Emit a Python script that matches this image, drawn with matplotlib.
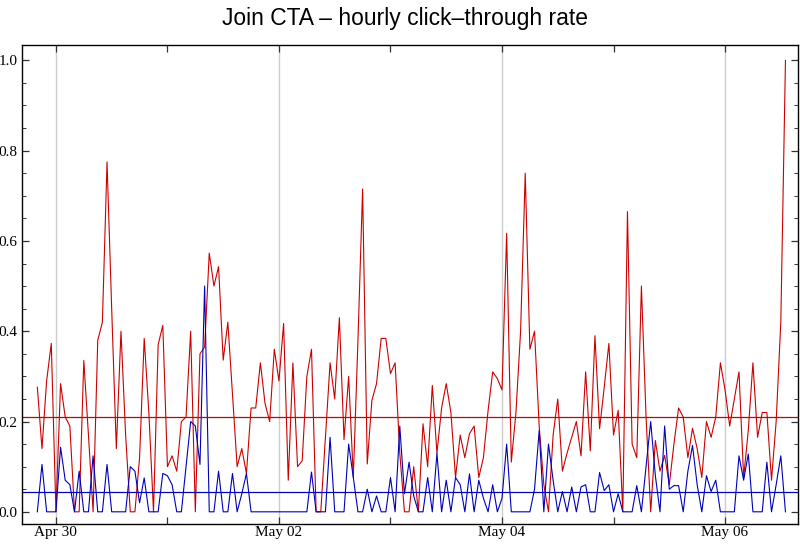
import matplotlib
matplotlib.use("Agg")
import matplotlib.pyplot as plt
import pandas as pd
import numpy as np

# ---- data ----
start_time = "2012-04-29 20:00"
red_rate = [
    0.276, 0.14, 0.29, 0.373, 0.0, 0.284, 0.21, 0.19, 0.0, 0.0,
    0.335, 0.17, 0.0, 0.38, 0.42, 0.775, 0.45, 0.14, 0.4, 0.17,
    0.0, 0.0, 0.12, 0.384, 0.22, 0.0, 0.37, 0.413, 0.1, 0.124,
    0.09, 0.2, 0.21, 0.4, 0.0, 0.35, 0.365, 0.573, 0.5, 0.543,
    0.336, 0.42, 0.26, 0.1, 0.14, 0.085, 0.23, 0.23, 0.33, 0.24,
    0.2, 0.36, 0.29, 0.417, 0.07, 0.33, 0.1, 0.113, 0.3, 0.36,
    0.0, 0.0, 0.165, 0.33, 0.25, 0.43, 0.16, 0.3, 0.076, 0.38,
    0.715, 0.106, 0.247, 0.284, 0.384, 0.384, 0.306, 0.33, 0.13, 0.0,
    0.0, 0.1, 0.0, 0.195, 0.1, 0.28, 0.13, 0.23, 0.284, 0.22,
    0.076, 0.17, 0.12, 0.173, 0.19, 0.076, 0.12, 0.224, 0.31, 0.295,
    0.27, 0.617, 0.11, 0.22, 0.4, 0.75, 0.36, 0.4, 0.19, 0.06,
    0.0, 0.17, 0.25, 0.09, 0.13, 0.165, 0.2, 0.124, 0.31, 0.135,
    0.39, 0.184, 0.276, 0.373, 0.17, 0.225, 0.0, 0.665, 0.15, 0.12,
    0.5, 0.21, 0.0, 0.158, 0.09, 0.125, 0.06, 0.15, 0.23, 0.21,
    0.12, 0.185, 0.14, 0.076, 0.2, 0.165, 0.21, 0.33, 0.27, 0.19,
    0.25, 0.31, 0.076, 0.18, 0.33, 0.165, 0.22, 0.22, 0.07, 0.2,
    0.42, 1.0,
]
blue_rate = [
    0.0, 0.105, 0.0, 0.0, 0.0, 0.143, 0.07, 0.06, 0.0, 0.09,
    0.0, 0.0, 0.124, 0.0, 0.0, 0.105, 0.0, 0.0, 0.0, 0.0,
    0.1, 0.09, 0.02, 0.075, 0.0, 0.0, 0.0, 0.085, 0.08, 0.06,
    0.0, 0.0, 0.1, 0.2, 0.19, 0.105, 0.5, 0.0, 0.0, 0.09,
    0.0, 0.0, 0.085, 0.0, 0.04, 0.085, 0.0, 0.0, 0.0, 0.0,
    0.0, 0.0, 0.0, 0.0, 0.0, 0.0, 0.0, 0.0, 0.0, 0.088,
    0.0, 0.0, 0.0, 0.165, 0.0, 0.0, 0.0, 0.15, 0.076, 0.0,
    0.0, 0.05, 0.0, 0.035, 0.0, 0.0, 0.076, 0.0, 0.19, 0.04,
    0.11, 0.035, 0.0, 0.0, 0.076, 0.0, 0.13, 0.0, 0.07, 0.0,
    0.076, 0.06, 0.0, 0.084, 0.0, 0.07, 0.03, 0.0, 0.06, 0.0,
    0.03, 0.15, 0.0, 0.0, 0.0, 0.0, 0.0, 0.05, 0.18, 0.0,
    0.15, 0.07, 0.0, 0.045, 0.0, 0.055, 0.0, 0.055, 0.06, 0.0,
    0.0, 0.087, 0.047, 0.06, 0.0, 0.04, 0.0, 0.0, 0.0, 0.058,
    0.0, 0.1, 0.2, 0.08, 0.0, 0.19, 0.05, 0.058, 0.058, 0.0,
    0.09, 0.147, 0.06, 0.0, 0.08, 0.045, 0.07, 0.0, 0.0, 0.0,
    0.0, 0.124, 0.07, 0.128, 0.0, 0.0, 0.0, 0.11, 0.0, 0.06,
    0.124, 0.0,
]
red_mean = 0.21
blue_mean = 0.043
major_tick_dates = ["2012-04-30", "2012-05-02", "2012-05-04", "2012-05-06"]
major_tick_labels = ["Apr 30", "May 02", "May 04", "May 06"]
minor_tick_dates = ["2012-05-01", "2012-05-03", "2012-05-05"]
y_ticks = [0.0, 0.2, 0.4, 0.6, 0.8, 1.0]
y_tick_labels = ["0.0", "0.2", "0.4", "0.6", "0.8", "1.0"]
title = "Join CTA \u2013 hourly click\u2013through rate"

times = pd.date_range(start=start_time, periods=len(red_rate), freq="h")

RED = "#cc0000"
BLUE = "#0000bb"

fig = plt.figure(figsize=(8.0, 5.45), dpi=100)
W, H = 800, 545
ax = fig.add_axes([22 / W, 1 - 524 / H, (798 - 22) / W, (524 - 45) / H])

ax.plot(times, red_rate, color=RED, lw=0.8)
ax.plot(times, blue_rate, color=BLUE, lw=0.8)
ax.axhline(red_mean, color=RED, lw=0.9)
ax.axhline(blue_mean, color=BLUE, lw=0.9)

t0 = pd.Timestamp(major_tick_dates[0])
ax.set_xlim(t0 - pd.Timedelta(hours=7.3), t0 + pd.Timedelta(hours=159.7))
ax.set_ylim(-0.027, 1.034)

maj = [pd.Timestamp(d) for d in major_tick_dates]
mnr = [pd.Timestamp(d) for d in minor_tick_dates]
ax.set_xticks(maj)
ax.set_xticklabels(major_tick_labels)
ax.set_xticks(mnr, minor=True)
ax.set_yticks(y_ticks)
ax.set_yticklabels(y_tick_labels)
ax.set_yticks(np.arange(0, 1.0001, 0.05), minor=True)

for v in maj:
    ax.axvline(v, color="#cccccc", lw=1.0, zorder=0)

ax.tick_params(axis="both", which="both", direction="in", top=True, right=True,
               color="#333333", labelsize=11)
ax.tick_params(axis="both", which="major", length=5, width=0.9)
ax.tick_params(axis="y", which="minor", length=3, width=0.7)
ax.tick_params(axis="x", which="minor", length=5, width=0.9)
ax.tick_params(axis="x", which="major", pad=1.5)
ax.tick_params(axis="y", which="major", pad=3)
for lab in ax.get_xticklabels() + ax.get_yticklabels():
    lab.set_fontfamily("Liberation Serif")

for s in ax.spines.values():
    s.set_linewidth(1.0)
    s.set_color("black")

fig.text(405 / W, 1 - 19 / H, title, ha="center", va="center",
         fontsize=16.5, family="Liberation Sans")

fig.savefig("out.png", dpi=100)
